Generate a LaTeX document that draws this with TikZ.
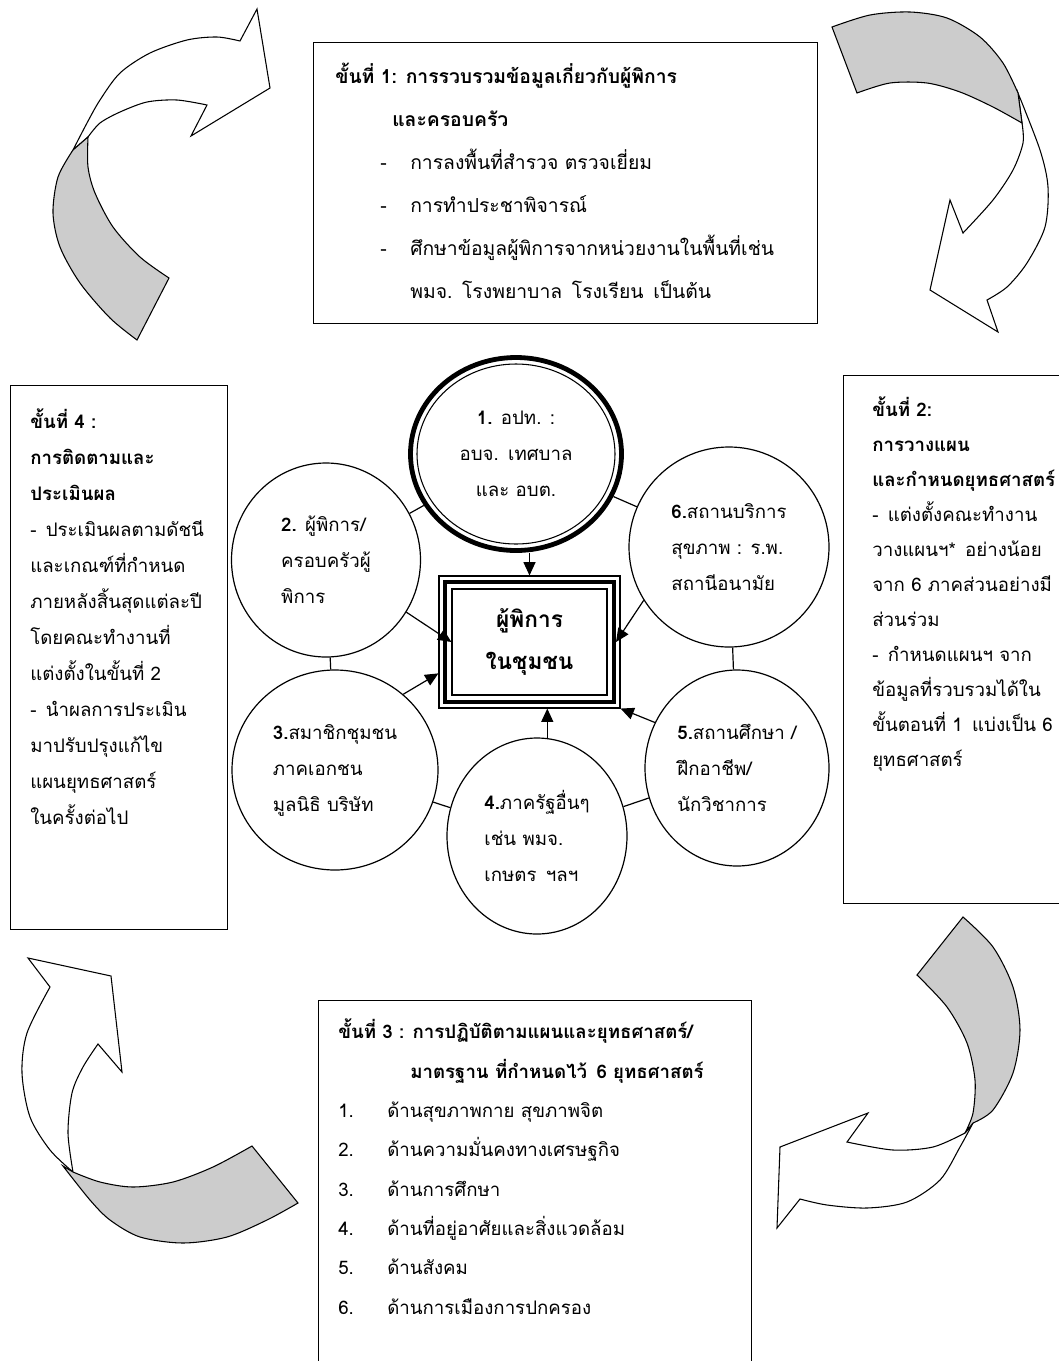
\documentclass[tikz,border=0pt]{standalone}
\usepackage{fontspec}
\setmainfont{Loma}[Script=Thai]
\usetikzlibrary{calc}
\usetikzlibrary{arrows,arrows.meta,shapes}
\usetikzlibrary{positioning}
\newcommand{\bodyfont}{\fontsize{14pt}{26.5pt}\selectfont}
\newcommand{\dashitem}{\hspace*{33.75pt}\makebox[22.5pt][l]{-}}
\newcommand{\numitem}[1]{\makebox[36.75pt][l]{#1}}
\tikzstyle{stepbox}=[draw,line width=1pt,anchor=north west,inner sep=0]
\tikzstyle{steptext}=[anchor=base west,align=left,inner sep=0,font=\bodyfont]
\tikzstyle{party}=[ellipse,draw,line width=0.9pt,align=left,inner sep=0,font=\fontsize{14pt}{27pt}\selectfont]
\tikzstyle{link}=[line width=0.9pt]
\tikzstyle{feed}=[line width=0.9pt,-{Triangle[length=10pt,width=9pt]}]
\tikzstyle{front}=[draw,line width=0.8pt,fill=white,line join=miter]
\tikzstyle{back}=[front,fill=black!20]

\begin{document}
\begin{tikzpicture}[x=0.75pt,y=-0.75pt]
\useasboundingbox (0,0) rectangle (1058,1361);

% turning arrows at the four corners
\filldraw[front] plot[smooth] coordinates {(73,150) (87,123) (100,100) (120,73) (150,53) (187,40) (217,37) (240,41)}
  -- (257,9) -- (270,88) -- (191,136)
  -- plot[smooth] coordinates {(207,105) (177,100) (147,102) (120,112) (100,123) (88,137)} -- cycle;
\filldraw[back] plot[smooth] coordinates {(137,340) (110,318) (80,283) (60,247) (53,213) (58,177) (73,150)}
  -- plot[smooth] coordinates {(88,137) (88,167) (95,193) (113,227) (140,257) (169,278)} -- cycle;

\filldraw[front] plot[smooth] coordinates {(1018,93) (1040,150) (1048,187) (1045,227) (1027,263) (1007,287) (987,300)}
  -- (998,332) -- (930,290) -- (950,200)
  -- plot[smooth] coordinates {(963,233) (993,200) (1013,170) (1023,143) (1022,123)} -- cycle;
\filldraw[back] plot[smooth] coordinates {(832,27) (870,15) (910,12) (947,18) (980,37) (1003,63) (1018,93)}
  -- plot[smooth] coordinates {(1022,123) (993,107) (960,92) (927,83) (890,83) (857,93)} -- cycle;

\filldraw[front] plot[smooth] coordinates {(973,1123) (960,1147) (940,1180) (907,1202) (867,1208) (827,1205) (800,1199)}
  -- (777,1228) -- (780,1147) -- (868,1113)
  -- plot[smooth] coordinates {(847,1142) (893,1150) (933,1147) (965,1133)} -- cycle;
\filldraw[back] plot[smooth] coordinates {(963,917) (993,947) (1013,987) (1020,1030) (1013,1073) (993,1110) (973,1123)}
  -- plot[smooth] coordinates {(965,1133) (973,1113) (975,1080) (967,1043) (947,1007) (917,975)} -- cycle;

\filldraw[front] plot[smooth] coordinates {(73,1172) (50,1150) (30,1117) (22,1073) (27,1033) (50,987)}
  -- (28,958) -- (111,976) -- (122,1072)
  -- plot[smooth] coordinates {(98,1044) (83,1067) (72,1093) (68,1133) (73,1172)} -- cycle;
\filldraw[back] plot[smooth] coordinates {(252,1146) (213,1167) (173,1182) (133,1187) (100,1182) (73,1172)}
  -- plot[smooth] coordinates {(63,1166) (90,1200) (110,1220) (140,1237) (183,1243) (227,1237) (267,1220) (298,1203)} -- cycle;

% the four steps (text nodes sit on their last baseline)
\node[stepbox,minimum width=378pt,minimum height=210.75pt] (s1) at (313,42) {};
\node[steptext,font=\fontsize{14.5pt}{32.25pt}\selectfont] (s1txt) at (335,298) {%
{\bfseries ขั้นที่ 1: การรวบรวมข้อมูลเกี่ยวกับผู้พิการ}\\
\hspace*{42.75pt}{\bfseries และครอบครัว}\\
\dashitem การลงพื้นที่สำรวจ ตรวจเยี่ยม\\
\dashitem การทำประชาพิจารณ์\\
\dashitem ศึกษาข้อมูลผู้พิการจากหน่วยงานในพื้นที่เช่น\\
\hspace*{56.25pt}พมจ.\enspace โรงพยาบาล\enspace โรงเรียน\enspace เป็นต้น};

\node[stepbox,minimum width=164.25pt,minimum height=396pt] (s2) at (843,375) {};
\node[steptext,font=\fontsize{14pt}{26.25pt}\selectfont] (s2txt) at (872,766) {%
{\bfseries ขั้นที่ 2:}\\
{\bfseries การวางแผน}\\
{\bfseries และกำหนดยุทธศาสตร์}\\
-\enspace แต่งตั้งคณะทำงาน\\
วางแผนฯ*\enspace อย่างน้อย\\
จาก 6 ภาคส่วนอย่างมี\\
ส่วนร่วม\\
-\enspace กำหนดแผนฯ จาก\\
ข้อมูลที่รวบรวมได้ใน\\
ขั้นตอนที่ 1\enspace แบ่งเป็น 6\\
ยุทธศาสตร์};

\node[stepbox,minimum width=324.75pt,minimum height=277.5pt] (s3) at (318,1000) {};
\node[steptext,font=\fontsize{14pt}{29.5pt}\selectfont] (s3txt) at (338,1314) {%
{\bfseries ขั้นที่ 3 : การปฏิบัติตามแผนและยุทธศาสตร์/}\\
\hspace*{54pt}{\bfseries มาตรฐาน ที่กำหนดไว้\enspace 6 ยุทธศาสตร์}\\
\numitem{1.}ด้านสุขภาพกาย สุขภาพจิต\\
\numitem{2.}ด้านความมั่นคงทางเศรษฐกิจ\\
\numitem{3.}ด้านการศึกษา\\
\numitem{4.}ด้านที่อยู่อาศัยและสิ่งแวดล้อม\\
\numitem{5.}ด้านสังคม\\
\numitem{6.}ด้านการเมืองการปกครอง};

\node[stepbox,minimum width=162.75pt,minimum height=408pt] (s4) at (10,385) {};
\node[steptext,font=\fontsize{14pt}{27pt}\selectfont] (s4txt) at (30,824) {%
{\bfseries ขั้นที่ 4 :}\\
{\bfseries การติดตามและ}\\
{\bfseries ประเมินผล}\\
-\enspace ประเมินผลตามดัชนี\\
และเกณฑ์ที่กำหนด\\
ภายหลังสิ้นสุดแต่ละปี\\
โดยคณะทำงานที่\\
แต่งตั้งในขั้นที่ 2\\
-\enspace นำผลการประเมิน\\
มาปรับปรุงแก้ไข\\
แผนยุทธศาสตร์\\
ในครั้งต่อไป};

% persons with disabilities in the community
\node[draw,line width=0.8pt,minimum width=135.75pt,minimum height=99pt] (hub) at (529.5,642) {};
\node[draw,line width=3pt,minimum width=126.75pt,minimum height=90pt] (hubmid) at (hub.center) {};
\node[draw,line width=0.9pt,minimum width=116.25pt,minimum height=79.5pt,align=center,
      font=\fontsize{17pt}{32pt}\selectfont\bfseries] (hubin) at (hub.center) {ผู้พิการ\\ในชุมชน};

% the six partners
\node[party,align=center,line width=3.6pt,minimum width=158.25pt,minimum height=144.75pt] (c1) at (516,454)
  {{\bfseries 1.} อปท. :\\อบจ.\enspace เทศบาล\\และ อบต.};
\draw[line width=0.8pt] (c1.center) ellipse [x radius=99, y radius=90];
\node[party,minimum width=141.75pt,minimum height=145.5pt] (c2) at (326,560)
  {{\bfseries 2.} ผู้พิการ/\\ครอบครัวผู้\\พิการ};
\node[party,minimum width=154.5pt,minimum height=150pt] (c3) at (335,770)
  {{\bfseries 3.}สมาชิกชุมชน\\ภาคเอกชน\\มูลนิธิ บริษัท};
\node[party,minimum width=135pt,minimum height=147pt] (c4) at (537,836)
  {{\bfseries 4.}ภาครัฐอื่นๆ\\เช่น พมจ.\\เกษตร\enspace ฯลฯ};
\node[party,minimum width=138pt,minimum height=147pt] (c5) at (737,768)
  {{\bfseries 5.}สถานศึกษา /\\ฝึกอาชีพ/\\นักวิชาการ};
\node[party,minimum width=150pt,minimum height=150pt] (c6) at (729,547)
  {{\bfseries 6.}สถานบริการ\\สุขภาพ : ร.พ.\\สถานีอนามัย};

\draw[link] (c1) -- (c2);
\draw[link] (c2) -- (c3);
\draw[link] (c3) -- (c4);
\draw[link] (c4) -- (c5);
\draw[link] (c5) -- (c6);
\draw[link] (c6) -- (c1);

\draw[feed] (hub.north |- c1.south) -- (hub.north);
\draw[feed] (c2.-33) -- (hubin.west);
\draw[feed] (c3.48) -- (hub.-161);
\draw[feed] (c4.84) -- (c4.84 |- hub.south);
\draw[feed] (c5.151) -- (hub.south east);
\draw[feed] (c6.-148) -- (hubmid.east);
\end{tikzpicture}
\end{document}
